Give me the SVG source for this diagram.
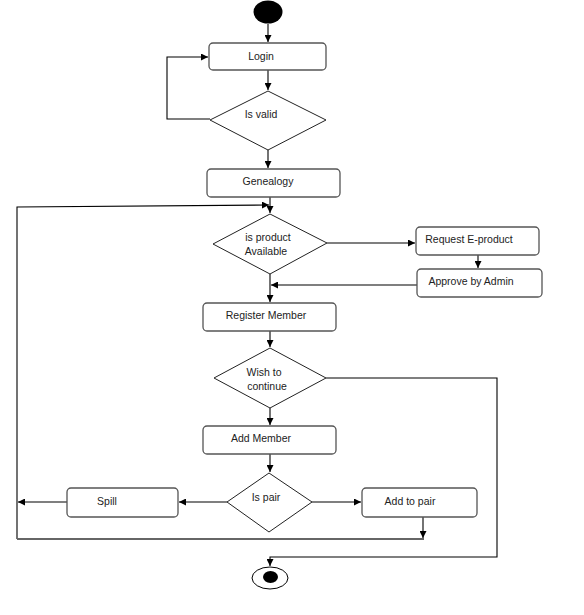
<svg xmlns="http://www.w3.org/2000/svg" width="584" height="615" viewBox="0 0 584 615">
<style>
.box{fill:#fff;stroke:#555;stroke-width:1.3}
.dia{fill:#fff;stroke:#222;stroke-width:1}
.ln{fill:none;stroke:#000;stroke-width:1.1}
.lg{fill:none;stroke:#666;stroke-width:2}
text{font-family:"Liberation Sans",Arial,sans-serif;font-size:10.5px;fill:#222;text-anchor:middle}
</style>
<defs>
<marker id="ah" viewBox="0 0 10 10" refX="10" refY="5" markerWidth="7" markerHeight="7" orient="auto" markerUnits="userSpaceOnUse">
<path d="M0,0 L10,5 L0,10 Z" fill="#000"/>
</marker>
</defs>
<rect width="584" height="615" fill="#fff"/>
<g id="connectors">
<line class="ln" x1="268" y1="24" x2="268" y2="42" marker-end="url(#ah)"/>
<line class="ln" x1="268" y1="70" x2="268" y2="90" marker-end="url(#ah)"/>
<polyline class="ln" points="210,119 167,119 167,57 208,57" marker-end="url(#ah)"/>
<line class="ln" x1="268" y1="150" x2="268" y2="168" marker-end="url(#ah)"/>
<line class="ln" x1="270" y1="197" x2="270" y2="213" marker-end="url(#ah)"/>
<polyline class="ln" points="17,539 17,207 269,205" marker-end="url(#ah)"/>
<line class="ln" x1="327" y1="243" x2="415" y2="243" marker-end="url(#ah)"/>
<line class="ln" x1="478" y1="255" x2="478" y2="268" marker-end="url(#ah)"/>
<line class="ln" x1="417" y1="285" x2="271" y2="285" marker-end="url(#ah)"/>
<line class="ln" x1="270" y1="274" x2="270" y2="302" marker-end="url(#ah)"/>
<line class="ln" x1="270" y1="331" x2="270" y2="347" marker-end="url(#ah)"/>
<polyline class="ln" points="326,378 497,378 497,557 270,557 270,566" marker-end="url(#ah)"/>
<line class="ln" x1="270" y1="408" x2="270" y2="425" marker-end="url(#ah)"/>
<line class="ln" x1="270" y1="454" x2="270" y2="472" marker-end="url(#ah)"/>
<line class="ln" x1="227" y1="502" x2="179" y2="502" marker-end="url(#ah)"/>
<line class="ln" x1="67" y1="502" x2="18" y2="502" marker-end="url(#ah)"/>
<line class="ln" x1="312" y1="502" x2="361" y2="502" marker-end="url(#ah)"/>
<line class="ln" x1="423" y1="517" x2="423" y2="538" marker-end="url(#ah)"/>
<line class="lg" x1="17" y1="539" x2="424" y2="539"/>
</g>
<g id="start"><ellipse cx="268" cy="12" rx="14.5" ry="11.5" fill="#000"/></g>
<g id="login"><rect class="box" x="209" y="43" width="117" height="27" rx="4"/><text x="261" y="60">Login</text></g>
<g id="isvalid"><polygon class="dia" points="210,120 268,91 326,120 268,150"/><text x="261" y="118">Is valid</text></g>
<g id="genealogy"><rect class="box" x="207" y="169" width="133" height="28" rx="4"/><text x="268" y="185">Genealogy</text></g>
<g id="isproduct"><polygon class="dia" points="213,244 270,214 327,243 270,274"/><text x="268" y="241">is product</text><text x="266" y="255">Available</text></g>
<g id="request"><rect class="box" x="416" y="227" width="123" height="28" rx="4"/><text x="469" y="243">Request E-product</text></g>
<g id="approve"><rect class="box" x="417" y="269" width="125" height="28" rx="4"/><text x="471" y="285">Approve by Admin</text></g>
<g id="register"><rect class="box" x="203" y="303" width="133" height="28" rx="4"/><text x="266" y="319">Register Member</text></g>
<g id="wish"><polygon class="dia" points="214,378 270,348 326,378 270,408"/><text x="264" y="376">Wish to</text><text x="267" y="390">continue</text></g>
<g id="addmember"><rect class="box" x="203" y="426" width="133" height="28" rx="4"/><text x="261" y="442">Add Member</text></g>
<g id="ispair"><polygon class="dia" points="227,502 269,473 312,502 269,532"/><text x="266" y="501">Is pair</text></g>
<g id="spill"><rect class="box" x="67" y="488" width="111" height="29" rx="4"/><text x="107" y="505">Spill</text></g>
<g id="addtopair"><rect class="box" x="362" y="488" width="115" height="29" rx="4"/><text x="410" y="505">Add to pair</text></g>
<g id="end"><ellipse cx="270" cy="578" rx="18" ry="11" fill="#fff" stroke="#000" stroke-width="1"/><ellipse cx="270.5" cy="577" rx="7.5" ry="6" fill="#000"/></g>
</svg>
